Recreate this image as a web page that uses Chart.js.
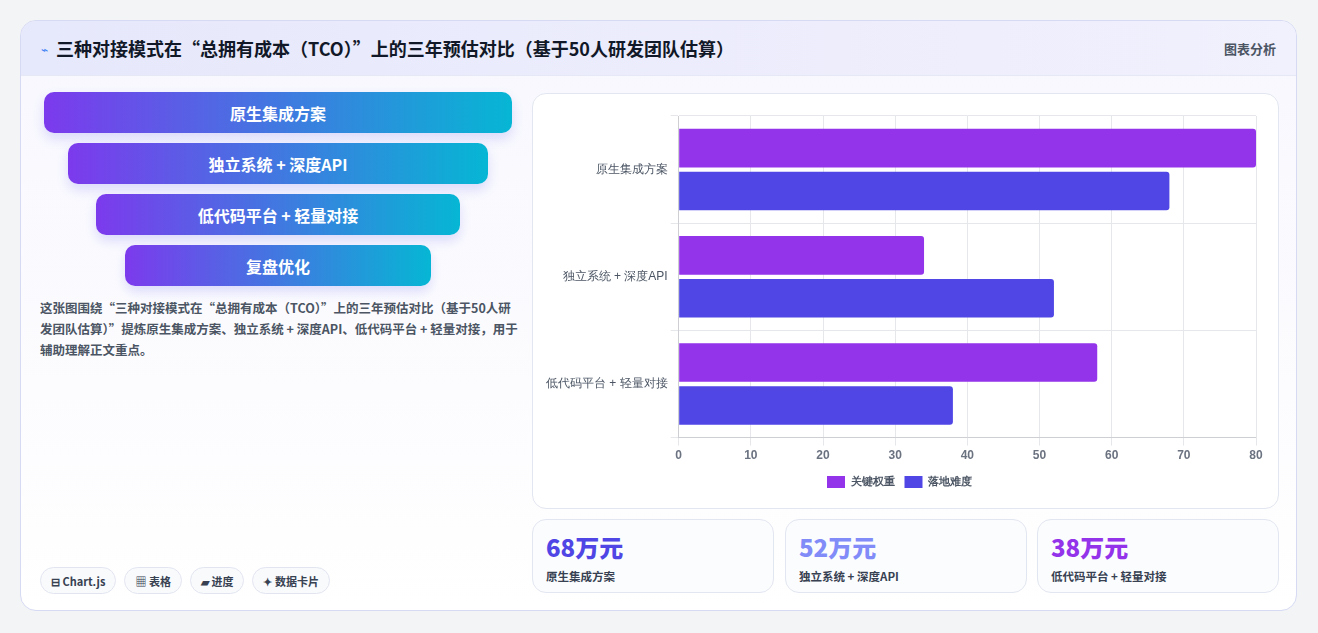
<!DOCTYPE html>
<html><head><meta charset="utf-8">
<script src="https://cdn.jsdelivr.net/npm/chart.js@4"></script>
<style>
*{box-sizing:border-box;margin:0;padding:0}
body{width:1318px;height:633px;background:#f3f4f6;font-family:"Noto Sans CJK SC","Noto Sans",sans-serif;position:relative;overflow:hidden}
.card{position:absolute;left:20px;top:20px;width:1277px;height:591px;background:linear-gradient(#f7f7fe,#fff);border:1px solid #d6daf3;border-radius:16px;overflow:hidden}
.hdr{height:55px;background:linear-gradient(90deg,#e6e8fb,#f1f0fd);border-bottom:1px solid #e6e8f5;display:flex;align-items:center;padding:0 20px}
.hdr h1{font-size:18px;font-weight:700;color:#111827;margin-left:8px}
.hdr .r{margin-left:auto;font-size:13px;color:#4b5563;font-weight:600}
.fb{position:absolute;height:41px;border-radius:10px;background:linear-gradient(90deg,#7c3aed,#06b6d4);color:#fff;font-weight:700;font-size:16px;display:flex;align-items:center;justify-content:center;box-shadow:0 6px 12px rgba(99,102,241,.2)}
.desc{position:absolute;left:19px;top:276px;width:480px;font-size:12.5px;line-height:21px;color:#4b5563;font-weight:600}
.chips{position:absolute;left:19px;top:546px;display:flex;gap:8px}
.chip{height:27px;padding:0 10px;border:1px solid #e2e5f0;border-radius:14px;background:#f8fafc;font-size:11px;font-weight:700;color:#374151;display:flex;align-items:center}
.panel{position:absolute;left:511px;top:72px;width:747px;height:416px;border:1px solid #e2e6f0;border-radius:14px;background:#fff}
.kpi{position:absolute;top:498px;width:242px;height:74px;border:1px solid #e2e6f0;border-radius:14px;background:#fbfcfe;padding:12px 13px}
.kpi b{display:block;font-size:24px;line-height:30px;font-weight:800}
.kpi span{font-size:11.5px;color:#374151;font-weight:600}
</style></head><body>
<div class="card">
<div class="hdr"><span style="color:#3b82f6;font-size:12px">⌁</span><h1>三种对接模式在“总拥有成本（TCO）”上的三年预估对比（基于50人研发团队估算）</h1><span class="r">图表分析</span></div>
<div class="fb" style="left:23px;top:71px;width:468px">原生集成方案</div>
<div class="fb" style="left:47px;top:122px;width:420px">独立系统 + 深度API</div>
<div class="fb" style="left:75px;top:173px;width:364px">低代码平台 + 轻量对接</div>
<div class="fb" style="left:104px;top:224px;width:306px">复盘优化</div>
<div class="desc">这张图围绕“三种对接模式在“总拥有成本（TCO）”上的三年预估对比（基于50人研发团队估算）”提炼原生集成方案、独立系统 + 深度API、低代码平台 + 轻量对接，用于辅助理解正文重点。</div>
<div class="chips"><div class="chip">⊟ Chart.js</div><div class="chip">▦ 表格</div><div class="chip">▰ 进度</div><div class="chip">✦ 数据卡片</div></div>
<div class="panel"><canvas id="c"></canvas></div>
<div class="kpi" style="left:511px"><b style="color:#4f46e5">68万元</b><span>原生集成方案</span></div>
<div class="kpi" style="left:764px"><b style="color:#818cf8">52万元</b><span>独立系统 + 深度API</span></div>
<div class="kpi" style="left:1016px"><b style="color:#9333ea">38万元</b><span>低代码平台 + 轻量对接</span></div>
</div>
<script>
const categories=["原生集成方案","独立系统 + 深度API","低代码平台 + 轻量对接"];
const weightValues=[80,34,58];
const difficultyValues=[68,52,38];
const xTicks=[0,10,20,30,40,50,60,70,80];
const p=document.querySelector('.panel');
const cv=document.getElementById('c');cv.style.width='745px';cv.style.height='414px';
new Chart(cv,{type:'bar',data:{labels:categories,datasets:[
{label:'关键权重',data:weightValues,backgroundColor:'#9333ea',borderRadius:3,categoryPercentage:0.8,barPercentage:0.9},
{label:'落地难度',data:difficultyValues,backgroundColor:'#4f46e5',borderRadius:3,categoryPercentage:0.8,barPercentage:0.9}]},
options:{indexAxis:'y',responsive:false,animation:false,maintainAspectRatio:false,
layout:{padding:{left:10,right:22,top:22,bottom:10}},
scales:{x:{min:0,max:80,ticks:{stepSize:10,color:'#6b7280',font:{size:12,weight:'bold'},callback:(v)=>xTicks.includes(v)?v:''},grid:{color:'#e5e7eb'}},
y:{ticks:{color:'#4b5563',font:{size:12}},grid:{color:'#e5e7eb'}}},
plugins:{legend:{position:'bottom',labels:{boxWidth:18,boxHeight:12,color:'#4b5563',font:{size:11,weight:'bold'}}}}}});
</script>
</body></html>
